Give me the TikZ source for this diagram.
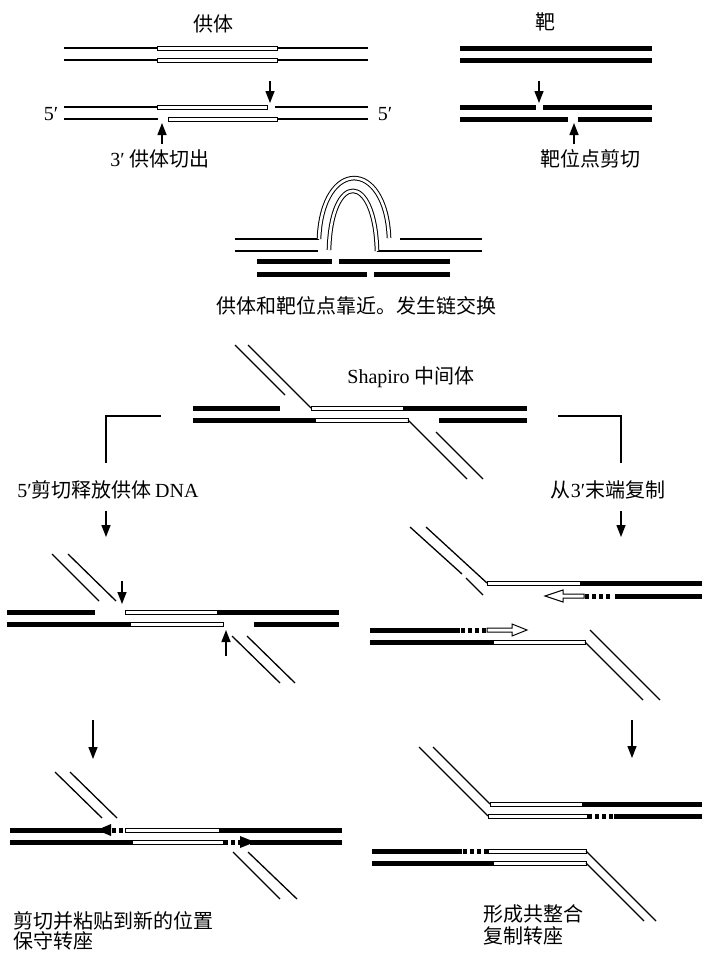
\documentclass[tikz,border=0pt]{standalone}
\usepackage{fontspec}
\setmainfont{Liberation Serif}
\newfontfamily\cjk{Noto Sans CJK SC}
\usetikzlibrary{arrows.meta}
\begin{document}
\begin{tikzpicture}[x=1pt, y=-1pt,
  donor/.style={line width=1.3pt},
  target/.style={line width=5pt},
  tn/.style={draw, line width=1pt, fill=white},
  tnarc/.style={line width=1pt, double=white, double distance=2.6pt},
  newdna/.style={line width=5pt, dash pattern=on 4pt off 3pt},
  arr/.style={line width=1.4pt, -{Triangle[length=12pt,width=9pt]}},
  bracket/.style={line width=1.4pt},
  lbl/.style={font=\fontsize{20}{21}\selectfont, inner sep=0pt}]
\useasboundingbox (0,0) rectangle (702,956);
\node[lbl] (dtitle) at (213,24) {\cjk 供体};
\node[lbl] (ttitle) at (545,22) {\cjk 靶};
\draw[donor] (64,48) -- (157,48) (277,48) -- (368,48);
\draw[tn] (157,46) rectangle (277,50);
\draw[donor] (64,60) -- (157,60) (277,60) -- (368,60);
\draw[tn] (157,58) rectangle (277,62);
\draw[donor] (64,107) -- (157,107) (275,107) -- (368,107);
\draw[tn] (157,105) rectangle (267,109);
\draw[donor] (64,119) -- (158,119) (277,119) -- (368,119);
\draw[tn] (168,117) rectangle (277,121);
\draw[arr] (270,81) -- (270,103);
\draw[arr] (162,144) -- (162,123);
\node[lbl] (five1) at (51,114) {5′};
\node[lbl] (five2) at (385,114) {5′};
\node[lbl] (dcut) at (160,159) {3′ {\cjk 供体切出}};
\draw[target] (460,48) -- (652,48);
\draw[target] (460,60) -- (652,60);
\draw[target] (460,107) -- (536,107) (543,107) -- (652,107);
\draw[target] (460,119) -- (568,119) (578,119) -- (652,119);
\draw[arr] (539,81) -- (539,103);
\draw[arr] (574,144) -- (574,123);
\node[lbl] (tcut) at (590,159) {\cjk 靶位点剪切};
\draw[donor] (235,239) -- (319,239) (400,239) -- (482,239);
\draw[donor] (235,251) -- (318,251) (377,251) -- (482,251);
\draw[tnarc] (319,239) .. controls (322,158) and (386,158) .. (389,238);
\draw[tnarc] (329,250) .. controls (331,171) and (375,171) .. (377,251);
\draw[target] (257,261) -- (332,261) (339,261) -- (450,261);
\draw[target] (257,274) -- (367,274) (374,274) -- (450,274);
\node[lbl] (exch) at (356,306) {\cjk 供体和靶位点靠近。发生链交换};
\draw[donor] (235,345) -- (285,395);
\draw[donor] (248,345) -- (311,408);
\draw[target] (193,408) -- (280,408);
\draw[tn] (311,406) rectangle (403,410);
\draw[target] (403,408) -- (527,408);
\draw[target] (193,420) -- (315,420);
\draw[tn] (315,418) rectangle (408,422);
\draw[target] (439,420) -- (527,420);
\draw[donor] (408,420) -- (467,479);
\draw[donor] (436,432) -- (483,479);
\node[lbl] (shap) at (411,377) {Shapiro {\cjk 中间体}};
\draw[bracket] (161,416) -- (106,416) -- (106,463);
\draw[bracket] (558,416) -- (621,416) -- (621,463);
\node[lbl] (lpath) at (108,490) {5′{\cjk 剪切释放供体}\,DNA};
\node[lbl] (rpath) at (608,490) {{\cjk 从}3′{\cjk 末端复制}};
\draw[arr] (106,511) -- (106,537);
\draw[arr] (621,511) -- (621,537);
\draw[donor] (52,554) -- (99,601);
\draw[donor] (68,554) -- (116,601);
\draw[arr] (122,581) -- (122,604);
\draw[target] (7,612) -- (95,612);
\draw[tn] (125,610) rectangle (217,614);
\draw[target] (217,612) -- (339,612);
\draw[target] (7,624) -- (130,624);
\draw[tn] (130,622) rectangle (223,626);
\draw[target] (254,624) -- (339,624);
\draw[arr] (226,656) -- (226,630);
\draw[donor] (232,636) -- (280,683);
\draw[donor] (247,636) -- (295,683);
\draw[arr] (93,720) -- (93,759);
\draw[donor] (55,772) -- (102,818);
\draw[donor] (70,772) -- (117,818);
\draw[target] (10,830) -- (104,830);
\fill (97,830) -- (111,824) -- (111,836) -- cycle;
\draw[newdna] (112,830) -- (125,830);
\draw[tn] (125,828) rectangle (219,832);
\draw[target] (219,830) -- (342,830);
\draw[target] (10,842) -- (132,842);
\draw[tn] (132,840) rectangle (223,844);
\draw[newdna] (224,842) -- (240,842);
\fill (240,836) -- (255,842) -- (240,848) -- cycle;
\draw[target] (250,842) -- (342,842);
\draw[donor] (233,852) -- (280,899);
\draw[donor] (248,852) -- (297,899);
\node[lbl, anchor=west] (cpaste) at (13,921) {\cjk 剪切并粘贴到新的位置};
\node[lbl, anchor=west] (consv) at (13,941) {\cjk 保守转座};
\draw[donor] (410,527) -- (462,574) (466,578) -- (483,595);
\draw[donor] (426,527) -- (487,583);
\draw[tn] (487,581) rectangle (580,585);
\draw[target] (580,583) -- (702,583);
\draw[tn] (584,594) -- (563,594) -- (563,590) -- (545,596) -- (563,602) -- (563,598) -- (584,598) -- cycle;
\draw[newdna] (585,596) -- (612,596);
\draw[target] (615,596) -- (702,596);
\draw[target] (370,630) -- (460,630);
\draw[newdna] (461,630) -- (487,630);
\draw[tn] (487,628) -- (512,628) -- (512,624) -- (527,630) -- (512,636) -- (512,632) -- (487,632) -- cycle;
\draw[target] (370,642) -- (493,642);
\draw[tn] (493,640) rectangle (585,644);
\draw[donor] (585,642) -- (643,700);
\draw[donor] (590,630) -- (660,700);
\draw[arr] (632,720) -- (632,758);
\draw[donor] (433,747) -- (490,804);
\draw[donor] (419,747) -- (488,816);
\draw[tn] (490,802) rectangle (582,806);
\draw[target] (582,804) -- (702,804);
\draw[tn] (488,814) rectangle (587,818);
\draw[newdna] (588,816) -- (613,816);
\draw[target] (614,816) -- (702,816);
\draw[target] (372,851) -- (462,851);
\draw[newdna] (463,851) -- (488,851);
\draw[tn] (488,849) rectangle (586,853);
\draw[target] (372,863) -- (493,863);
\draw[tn] (493,861) rectangle (586,865);
\draw[donor] (586,851) -- (656,921);
\draw[donor] (586,863) -- (644,921);
\node[lbl, anchor=west] (coint) at (483,914) {\cjk 形成共整合};
\node[lbl, anchor=west] (repl) at (483,936) {\cjk 复制转座};
\end{tikzpicture}
\end{document}
